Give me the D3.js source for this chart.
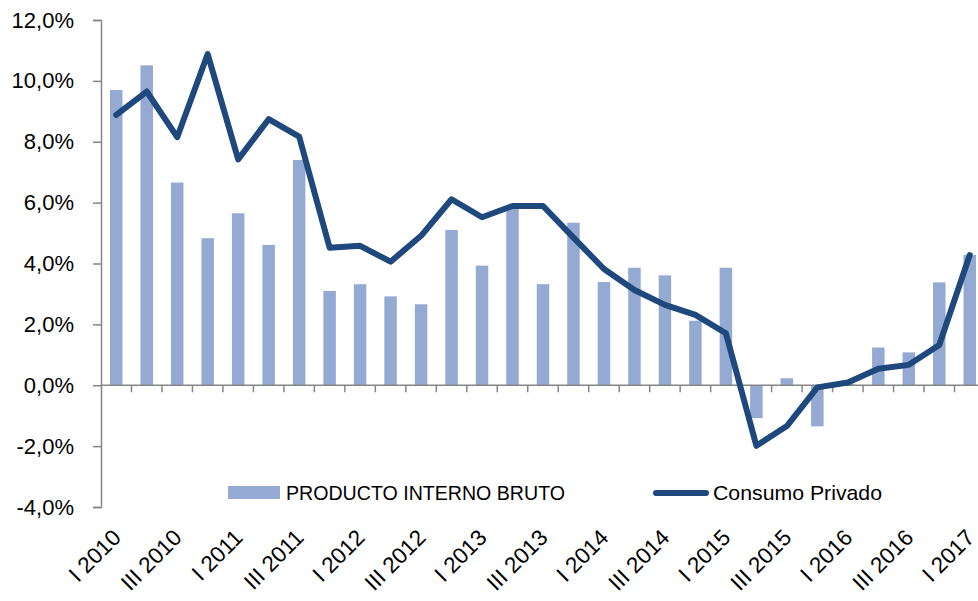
<!DOCTYPE html>
<html>
<head>
<meta charset="utf-8">
<script src="https://cdn.jsdelivr.net/npm/d3@7"></script>
<style>
  body { margin: 0; background: #fff; }
  text { font-family: "Liberation Sans", Arial, sans-serif; fill: #000; }
</style>
</head>
<body>
<div id="chart"></div>
<script>
// quarters I 2010 .. I 2017
const quarters = [
  "I 2010", "II 2010", "III 2010", "IV 2010",
  "I 2011", "II 2011", "III 2011", "IV 2011",
  "I 2012", "II 2012", "III 2012", "IV 2012",
  "I 2013", "II 2013", "III 2013", "IV 2013",
  "I 2014", "II 2014", "III 2014", "IV 2014",
  "I 2015", "II 2015", "III 2015", "IV 2015",
  "I 2016", "II 2016", "III 2016", "IV 2016",
  "I 2017"
];
const pib = [
  9.70, 10.51, 6.66, 4.83, 5.65, 4.61, 7.40, 3.10,
  3.32, 2.92, 2.66, 5.10, 3.93, 5.79, 3.32, 5.34,
  3.39, 3.86, 3.61, 2.12, 3.86, -1.08, 0.23, -1.35,
  0.05, 1.24, 1.08, 3.38, 4.28
];
const consumo = [
  8.88, 9.65, 8.15, 10.88, 7.42, 8.74, 8.17, 4.52,
  4.58, 4.06, 4.91, 6.11, 5.52, 5.89, 5.89, 4.85,
  3.82, 3.13, 2.64, 2.31, 1.71, -1.99, -1.34, -0.07,
  0.09, 0.54, 0.67, 1.32, 4.28
];
const yTicks = [-4, -2, 0, 2, 4, 6, 8, 10, 12];
const seriesNames = ["PRODUCTO INTERNO BRUTO", "Consumo Privado"];

const width = 978, height = 601;
const barColor = "#94aad3", lineColor = "#1f497d", axisColor = "#868686";

const svg = d3.select("#chart").append("svg")
  .attr("width", width).attr("height", height);

const x = d3.scaleBand().domain(quarters).range([101, 985])
  .paddingInner(0.59).paddingOuter(0.295);
const y = d3.scaleLinear().domain([-4, 12]).range([507, 20]);

// bars
svg.append("g").selectAll("rect")
  .data(quarters)
  .join("rect")
  .attr("x", d => x(d))
  .attr("width", x.bandwidth())
  .attr("y", (d, i) => y(Math.max(0, pib[i])))
  .attr("height", (d, i) => Math.abs(y(pib[i]) - y(0)))
  .attr("fill", barColor);

// y axis
const pct = d => (d < 0 ? "-" : "") + Math.abs(d).toFixed(1).replace(".", ",") + "%";
const yAxis = svg.append("g").attr("transform", "translate(101,0)")
  .call(d3.axisLeft(y).tickValues(yTicks).tickSize(8).tickPadding(19).tickFormat(pct));
yAxis.select(".domain").attr("stroke", axisColor).attr("stroke-width", 1.5);
yAxis.selectAll(".tick line").attr("stroke", axisColor).attr("stroke-width", 1.5);
yAxis.selectAll(".tick text").attr("font-size", 22).attr("font-family", "Liberation Sans, Arial, sans-serif");

// x axis along zero
const step = x.step();
const boundaries = d3.range(1, quarters.length + 1).map(i => 101 + i * step);
const xg = svg.append("g");
xg.append("line")
  .attr("x1", 101).attr("x2", 985)
  .attr("y1", y(0)).attr("y2", y(0))
  .attr("stroke", axisColor).attr("stroke-width", 1.5);
xg.selectAll("line.tk").data(boundaries).join("line")
  .attr("class", "tk")
  .attr("x1", d => d).attr("x2", d => d)
  .attr("y1", y(0)).attr("y2", y(0) + 7)
  .attr("stroke", axisColor).attr("stroke-width", 1.5);

// line
const line = d3.line()
  .x((d, i) => x(quarters[i]) + x.bandwidth() / 2)
  .y(d => y(d));
svg.append("path")
  .datum(consumo)
  .attr("d", line)
  .attr("fill", "none")
  .attr("stroke", lineColor)
  .attr("stroke-width", 6)
  .attr("stroke-linejoin", "round")
  .attr("stroke-linecap", "round");

// category labels, every other quarter
svg.append("g").selectAll("text")
  .data(quarters.filter((d, i) => i % 2 === 0))
  .join("text")
  .attr("transform", d => `translate(${x(d) + x.bandwidth() / 2 + 6},${539}) rotate(-45)`)
  .attr("text-anchor", "end")
  .attr("font-size", 22.5)
  .text(d => d);

// legend
const lg = svg.append("g");
lg.append("rect").attr("x", 228).attr("y", 486).attr("width", 52).attr("height", 13).attr("fill", barColor);
lg.append("text").attr("x", 286).attr("y", 500).attr("font-size", 20)
  .attr("textLength", 279).attr("lengthAdjust", "spacingAndGlyphs").text(seriesNames[0]);
lg.append("line").attr("x1", 656).attr("x2", 706).attr("y1", 493).attr("y2", 493)
  .attr("stroke", lineColor).attr("stroke-width", 6).attr("stroke-linecap", "round");
lg.append("text").attr("x", 713).attr("y", 500).attr("font-size", 21)
  .attr("textLength", 169).attr("lengthAdjust", "spacingAndGlyphs").text(seriesNames[1]);
</script>
</body>
</html>
